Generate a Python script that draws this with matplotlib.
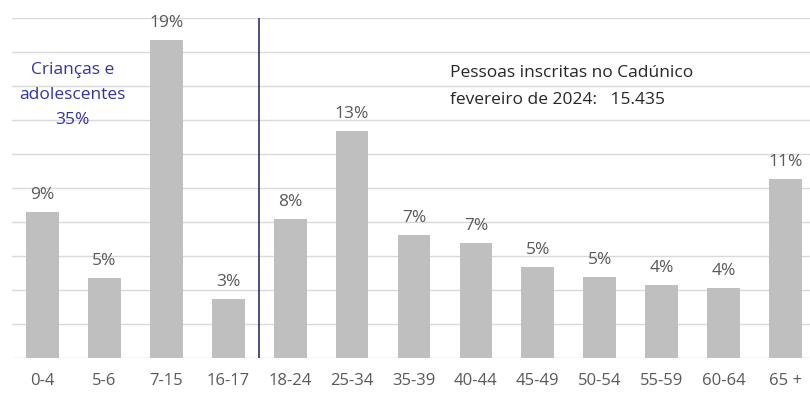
import matplotlib
matplotlib.use("Agg")
import matplotlib.pyplot as plt

plt.rcParams['font.family'] = ['Open Sans', 'DejaVu Sans']

categories = ["0-4", "5-6", "7-15", "16-17", "18-24", "25-34", "35-39",
              "40-44", "45-49", "50-54", "55-59", "60-64", "65 +"]
shares = [8.57, 4.70, 18.72, 3.48, 8.18, 13.33, 7.22, 6.77, 5.35, 4.78, 4.32, 4.09, 10.52]
labels = ["9%", "5%", "19%", "3%", "8%", "13%", "7%", "7%", "5%", "5%", "4%", "4%", "11%"]
children_note = "Crianças e\nadolescentes\n35%"
total_note_1 = "Pessoas inscritas no Cadúnico"
total_note_2 = "fevereiro de 2024:   15.435"

fig = plt.figure(figsize=(8.1, 3.93), dpi=100)
ax = fig.add_axes([11.5 / 810, 35 / 393, 805 / 810, 340 / 393])

x = list(range(len(categories)))
ax.bar(x, shares, width=0.53, color="#bfbfbf", zorder=2)
ax.set_xlim(-0.5, len(categories) - 0.5)
ax.set_ylim(0, 20)
ax.set_yticks(range(0, 21, 2))
ax.yaxis.grid(True, color="#d9d9d9", linewidth=1.0, zorder=0)
ax.tick_params(axis='y', left=False, labelleft=False)
ax.tick_params(axis='x', bottom=False, labelsize=12, labelcolor="#595959", pad=7)
ax.set_xticks(x)
ax.set_xticklabels(categories)
for s in ax.spines.values():
    s.set_visible(False)

for xi, v, lab in zip(x, shares, labels):
    ax.annotate(lab, (xi, v), xytext=(0, 6.5), textcoords="offset points",
                ha="center", va="bottom", fontsize=12.5, color="#595959")

# divider between children/adolescents and adults
ax.plot([3.5, 3.5], [0, 20], color="#1f1f5c", linewidth=1.1, zorder=3)

ax.text(0.485, 15.45, children_note, ha="center", va="center", fontsize=12.5,
        color="#3333a0", linespacing=1.75)
ax.text(6.58, 16.75, total_note_1, ha="left", va="center", fontsize=12.5, color="#262626")
ax.text(6.58, 15.15, total_note_2, ha="left", va="center", fontsize=12.5, color="#262626")

fig.savefig("out.png", dpi=100)
